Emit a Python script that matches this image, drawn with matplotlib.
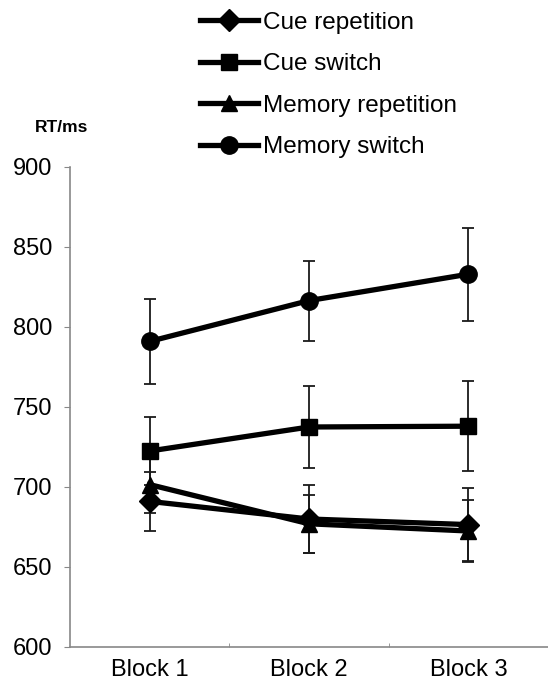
import matplotlib
matplotlib.use("Agg")
from matplotlib import pyplot as plt

plt.rcParams["font.family"] = ["Liberation Sans", "DejaVu Sans"]

blocks = ["Block 1", "Block 2", "Block 3"]
names = ["Cue repetition", "Cue switch", "Memory repetition", "Memory switch"]
markers = ["D", "s", "^", "o"]
msizes = [11, 12, 12, 12.5]

cue_rep = [691, 680, 676.5]
cue_sw = [722.5, 737.5, 738]
mem_rep = [701.5, 677, 672.5]
mem_sw = [791, 816.5, 833]

cue_rep_err = [18.5, 21, 23]
cue_sw_err = [21.5, 25.5, 28]
mem_rep_err = [18, 18, 19.5]
mem_sw_err = [26.5, 25, 29]

series = [cue_rep, cue_sw, mem_rep, mem_sw]
errors = [cue_rep_err, cue_sw_err, mem_rep_err, mem_sw_err]

fig = plt.figure(figsize=(5.48, 6.8), dpi=100)
ax = fig.add_axes([70/548, 1-647/680, 478/548, 480/680])

x = list(range(len(blocks)))
for vals, err in zip(series, errors):
	ax.errorbar(x, vals, yerr=err, fmt='none', ecolor='#1a1a1a', elinewidth=1.3,
		capsize=4.5, capthick=1.3, zorder=2)
for vals, name, m, ms in zip(series, names, markers, msizes):
	ax.plot(x, vals, color='black', linewidth=3.8, marker=m, markersize=ms,
		label=name, zorder=3)

ax.set_ylim(600, 900)
ax.set_xlim(-0.5, 2.5)
ax.set_yticks(range(600, 901, 50))
ax.set_xticks(x)
ax.set_xticklabels(blocks)
ax.set_xticks([0.5, 1.5], minor=True)
ax.tick_params(axis='x', which='major', length=0, pad=9, labelsize=17)
ax.tick_params(axis='x', which='minor', length=3, direction='in', color='#888888')
ax.tick_params(axis='y', length=4, direction='out', color='#888888', pad=9, labelsize=17)
for s in ['top', 'right']:
	ax.spines[s].set_visible(False)
for s in ['left', 'bottom']:
	ax.spines[s].set_color('#888888')
	ax.spines[s].set_linewidth(1.2)

fig.text(35/548, 1-128/680, "RT/ms", fontsize=12.5, fontweight='bold', va='center', ha='left')

fig.legend(loc='upper left', bbox_to_anchor=(190/548, 1-2/680), frameon=False,
	fontsize=17.5, handlelength=2.4, handletextpad=0.2, labelspacing=0.8,
	borderaxespad=0)

fig.savefig("out.png", dpi=100)
